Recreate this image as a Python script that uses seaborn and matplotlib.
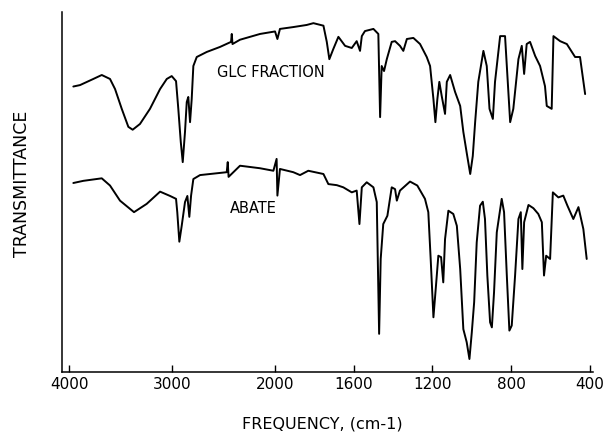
import numpy as np
import pandas as pd
import matplotlib
matplotlib.use("Agg")
import matplotlib.pyplot as plt
import seaborn as sns

# ---- data (wavenumber in cm-1, transmittance in arbitrary %) ----
glc_wavenumber = [3958, 3893, 3764, 3682, 3602, 3553, 3488, 3424, 3382, 3311, 3214, 3116, 3051,
                  3003, 2961, 2939, 2915, 2896, 2874, 2857, 2842, 2825, 2809, 2793, 2760, 2663,
                  2534, 2427, 2420, 2413, 2340, 2146, 2000, 1988, 1975, 1909, 1839, 1805, 1754,
                  1737, 1724, 1704, 1678, 1644, 1610, 1585, 1568, 1559, 1543, 1500, 1475, 1466,
                  1458, 1446, 1432, 1407, 1390, 1365, 1348, 1330, 1297, 1263, 1229, 1212, 1195,
                  1185, 1175, 1165, 1153, 1136, 1127, 1110, 1085, 1059, 1043, 1025, 1008, 995,
                  983, 967, 941, 924, 910, 893, 882, 856, 831, 822, 805, 789, 763, 746, 734, 721,
                  704, 678, 653, 628, 619, 594, 585, 551, 517, 475, 450, 424]
glc_transmittance = [79.3, 79.7, 81.4, 82.5, 81.4, 78.6, 73.1, 68.1, 67.3, 68.9, 73.1, 78.6, 81.4,
                     82.2, 80.8, 73.1, 63.9, 58.3, 66.7, 75.0, 76.4, 69.4, 75.8, 85.0, 87.5, 88.9,
                     90.3, 91.7, 93.9, 91.1, 92.3, 93.9, 94.6, 92.5, 95.3, 95.8, 96.4, 96.9, 96.2,
                     91.7, 86.9, 89.7, 93.1, 90.6, 90.0, 91.9, 89.2, 93.3, 94.7, 95.3, 93.9, 70.8,
                     85.0, 83.6, 86.9, 91.7, 91.9, 90.6, 89.2, 92.5, 92.8, 91.1, 87.5, 85.0, 75.8,
                     69.4, 75.8, 80.6, 76.7, 71.7, 80.6, 82.5, 77.8, 73.9, 66.7, 60.6, 55.0, 60.0,
                     69.4, 80.6, 89.2, 85.0, 73.1, 70.3, 80.6, 93.3, 93.3, 85.0, 69.4, 73.1, 86.9,
                     90.6, 82.8, 91.1, 91.7, 87.8, 85.0, 79.4, 73.9, 73.1, 93.3, 91.9, 91.1, 87.5,
                     87.5, 77.2]

abate_wavenumber = [3958, 3861, 3682, 3602, 3505, 3369, 3246, 3116, 3019, 2961, 2949, 2929, 2906,
                    2874, 2851, 2832, 2815, 2793, 2728, 2469, 2459, 2451, 2340, 2146, 2016, 1992,
                    1988, 1975, 1907, 1873, 1831, 1754, 1729, 1686, 1653, 1610, 1585, 1571, 1559,
                    1534, 1500, 1483, 1471, 1463, 1450, 1429, 1407, 1390, 1381, 1365, 1314, 1277,
                    1238, 1221, 1209, 1195, 1182, 1170, 1156, 1145, 1136, 1119, 1094, 1076, 1059,
                    1043, 1026, 1012, 1000, 988, 975, 958, 944, 933, 921, 907, 898, 887, 873, 848,
                    836, 822, 809, 797, 780, 763, 751, 743, 734, 712, 687, 662, 644, 633, 622, 602,
                    588, 560, 535, 514, 484, 458, 433, 416]
abate_transmittance = [52.5, 53.1, 53.8, 51.8, 47.6, 44.4, 46.7, 50.1, 48.9, 48.1, 44.4, 36.2,
                       40.6, 47.2, 48.9, 43.1, 49.0, 53.6, 54.7, 55.5, 58.3, 54.2, 57.3, 56.6,
                       55.9, 59.2, 49.0, 56.4, 55.5, 54.7, 55.9, 55.0, 52.2, 51.9, 51.3, 49.9,
                       50.4, 41.1, 51.3, 52.7, 51.3, 47.2, 10.6, 31.4, 41.1, 43.4, 51.3, 50.8,
                       47.6, 50.4, 52.9, 51.8, 48.1, 44.4, 31.4, 15.2, 24.0, 32.3, 31.9, 24.9,
                       36.9, 44.8, 43.9, 40.6, 28.6, 11.9, 8.3, 3.6, 11.0, 19.4, 36.0, 46.2, 47.3,
                       42.5, 26.8, 13.8, 12.4, 22.1, 38.8, 48.1, 44.4, 26.8, 11.5, 12.9, 26.8,
                       42.5, 44.4, 28.6, 41.6, 46.4, 45.5, 43.9, 41.6, 26.8, 32.3, 31.4, 49.9,
                       48.5, 49.0, 46.2, 42.5, 45.8, 39.7, 31.4]

tick_values = [4000, 3000, 2000, 1600, 1200, 800, 400]
tick_labels = ["4000", "3000", "2000", "1600", "1200", "800", "400"]
series_names = ["GLC FRACTION", "ABATE"]

df = pd.concat([
    pd.DataFrame({"wavenumber": glc_wavenumber, "T": glc_transmittance, "sample": series_names[0]}),
    pd.DataFrame({"wavenumber": abate_wavenumber, "T": abate_transmittance, "sample": series_names[1]}),
], ignore_index=True)

sns.set_style("white")
plt.rcParams["font.family"] = ["DejaVu Sans"]

fig = plt.figure(figsize=(6.07, 4.35), dpi=100)
ax = fig.add_axes([62 / 607, 1 - 373 / 435, (593 - 62) / 607, (373 - 13) / 435])


def fwd(x):
    x = np.asarray(x, dtype=float)
    return np.where(x >= 2000, x / 1000.0, 2.0 - (2000.0 - x) / 1000.0 * 1.91)


def inv(u):
    u = np.asarray(u, dtype=float)
    return np.where(u >= 2.0, u * 1000.0, 2000.0 - (2.0 - u) / 1.91 * 1000.0)


ax.set_xscale("function", functions=(fwd, inv))

sns.lineplot(data=df, x="wavenumber", y="T", units="sample", estimator=None, sort=False,
             color="black", linewidth=1.4, ax=ax, legend=False)

ax.set_xlim(4068, 384)
ax.set_ylim(0, 100)
ax.set_xticks(tick_values)
ax.set_xticklabels(tick_labels)
ax.xaxis.set_minor_locator(matplotlib.ticker.NullLocator())
ax.set_yticks([])
ax.tick_params(axis="x", direction="in", length=5, width=1.0, pad=3, labelsize=11,
               colors="black", bottom=True)
ax.set_xlabel("")
ax.set_ylabel("")
for side in ["top", "right"]:
    ax.spines[side].set_visible(False)
for side in ["left", "bottom"]:
    ax.spines[side].set_color("black")
    ax.spines[side].set_linewidth(1.1)

ax.text(2039, 83.6, series_names[0], ha="center", va="center", fontsize=10.5, color="black")
ax.text(2214, 45.6, series_names[1], ha="center", va="center", fontsize=10.5, color="black")

fig.text(322 / 607, 1 - 424 / 435, "FREQUENCY, (cm-1)", ha="center", va="center",
         fontsize=11.5, color="black")
fig.text(22 / 607, 1 - 184 / 435, "TRANSMITTANCE", ha="center", va="center", rotation=90,
         fontsize=12.5, color="black")

fig.savefig("out.png", dpi=100, facecolor="white")
